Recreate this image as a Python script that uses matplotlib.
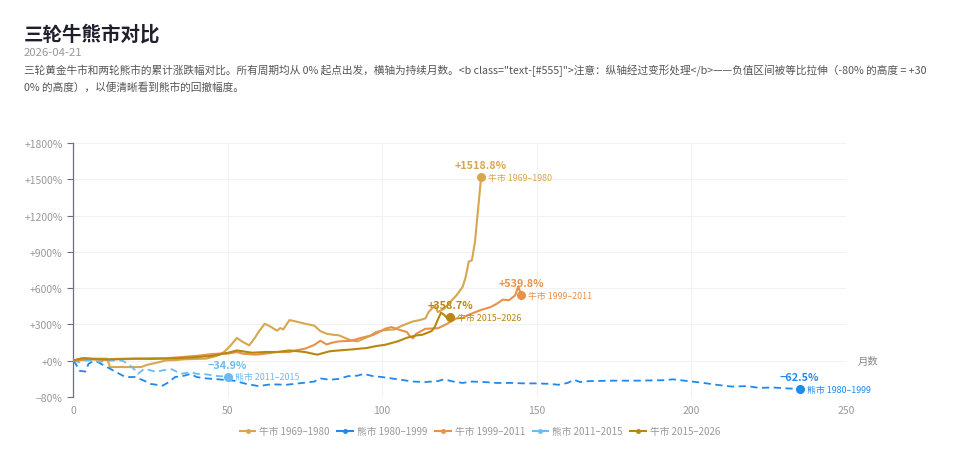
import numpy as np
import matplotlib
matplotlib.use("Agg")
import matplotlib.pyplot as plt
from matplotlib.lines import Line2D

plt.rcParams['font.family'] = ['Noto Sans CJK SC', 'DejaVu Sans']

# 月数 / 累计涨跌幅 (%)
bull_6980_m = [0, 2, 4, 6, 8, 11, 12, 16, 20, 22, 24, 26, 28, 30, 33, 36, 40, 43, 45, 47,
               49, 51, 53, 55, 57, 59, 60, 62, 64, 66, 67, 68, 70, 72, 75, 78, 80, 82, 84, 86,
               88, 90, 92, 94, 96, 98, 100, 102, 104, 106, 108, 110, 112, 114, 115, 117, 118, 120, 122, 124,
               126, 127, 128, 129, 130, 131, 132]
bull_6980_v = [0, 15, 22, 18, 17, 17, -14, -14, -14, -14, -9, -6, -3, 2, 5, 12, 15, 17, 30, 44,
               75, 127, 188, 154, 127, 196, 237, 306, 280, 248, 270, 259, 336, 325, 306, 290, 245, 223, 215, 210,
               188, 168, 160, 182, 204, 237, 250, 255, 259, 285, 306, 325, 335, 350, 402, 457, 402, 430, 485, 540,
               610, 692, 820, 830, 981, 1250, 1518.8]

bear_8099_m = [0, 1, 2, 4, 5, 6, 8, 11, 15, 17, 20, 23, 25, 29, 31, 33, 36, 38, 40, 43,
               47, 52, 56, 60, 64, 69, 73, 78, 80, 83, 86, 89, 92, 94, 97, 100, 103, 105, 110, 114,
               118, 120, 123, 126, 129, 133, 137, 142, 146, 150, 154, 157, 160, 162, 164, 167, 175, 182, 191, 194,
               199, 204, 208, 213, 218, 222, 226, 231, 235]
bear_8099_v = [0, -8, -22, -24, -7, -3, -3, -14, -29, -36, -36, -44, -51, -55, -47, -36, -33, -29, -36, -39,
               -41, -44, -51, -56, -52, -53, -50, -46, -39, -42, -40, -34, -33, -29, -34, -36, -39, -41, -46, -47,
               -45, -41, -46, -49, -46, -47, -49, -49, -50, -50, -51, -53, -49, -42, -47, -45, -44, -44, -43, -41,
               -45, -49, -53, -57, -56, -60, -59, -61, -62.5]

bull_9911_m = [0, 3, 6, 10, 15, 20, 25, 30, 35, 40, 45, 48, 50, 53, 55, 59, 62, 66, 70, 72,
               75, 78, 80, 82, 84, 86, 90, 93, 97, 99, 101, 103, 106, 108, 109, 110, 111, 114, 118, 120,
               122, 124, 126, 128, 132, 135, 137, 139, 141, 143, 144, 145]
bull_9911_v = [0, 5, 10, 8, 12, 15, 20, 20, 30, 40, 55, 60, 58, 72, 58, 50, 58, 72, 72, 85,
               99, 130, 165, 135, 150, 160, 165, 188, 212, 237, 265, 278, 252, 237, 200, 185, 223, 264, 268, 292,
               320, 350, 355, 380, 420, 443, 470, 505, 500, 540, 614, 539.8]

bear_1115_m = [0, 2, 4, 6, 8, 10, 12, 14, 16, 18, 20, 21, 23, 25, 27, 29, 32, 35, 38, 40, 43, 47, 50]
bear_1115_v = [0, -3, 1, 3, -2, -2, 0, 2, 0, -8, -20, -29, -18, -21, -25, -21, -19, -29, -25, -29, -30, -34, -34.9]

bull_1526_m = [0, 3, 6, 10, 15, 20, 25, 30, 35, 40, 45, 50, 53, 58, 62, 66, 70, 75, 79, 83,
               86, 90, 95, 98, 101, 105, 108, 111, 113, 116, 117, 118, 119, 120, 121, 122]
bull_1526_v = [0, 20, 15, 10, 15, 18, 15, 18, 22, 30, 40, 65, 85, 66, 72, 72, 85, 72, 50, 78,
               85, 93, 105, 121, 132, 160, 190, 209, 215, 245, 280, 340, 397, 380, 353, 358.7]

names = ['牛市 1969–1980', '熊市 1980–1999', '牛市 1999–2011', '熊市 2011–2015', '牛市 2015–2026']
colors = ['#D6A650', '#2088EE', '#E8914A', '#6BBBF2', '#B8870E']
dashed = [False, True, False, True, False]
series = [(bull_6980_m, bull_6980_v), (bear_8099_m, bear_8099_v), (bull_9911_m, bull_9911_v),
          (bear_1115_m, bear_1115_v), (bull_1526_m, bull_1526_v)]

yticks = [-80, 0, 300, 600, 900, 1200, 1500, 1800]
xticks = [0, 50, 100, 150, 200, 250]


# 负值区间拉伸：-80% 的高度 = +300%
def fwd(v):
    v = np.asarray(v, dtype=float)
    return np.where(v < 0, v * 3.75, v)


def inv(v):
    v = np.asarray(v, dtype=float)
    return np.where(v < 0, v / 3.75, v)


fig = plt.figure(figsize=(9.6, 4.64), dpi=100)
ax = fig.add_axes([73 / 960, 1 - 398 / 464, (846 - 73) / 960, (398 - 144) / 464])
ax.set_yscale('function', functions=(fwd, inv))

for (m, v), name, c, d in zip(series, names, colors, dashed):
    ls = (0, (4, 2.5)) if d else '-'
    lw = 1.3 if d else 1.5
    ax.plot(m, v, color=c, lw=lw, ls=ls, zorder=3)
    ax.plot(m[-1], v[-1], 'o', color=c, ms=5.5, zorder=4)
    val = ('+' if v[-1] > 0 else '−') + f'{abs(v[-1]):.1f}%'
    ax.annotate(val, (m[-1], v[-1]), xytext=(0, 5), textcoords='offset points',
                ha='center', va='bottom', fontsize=7.8, color=c, fontweight='bold', zorder=5)
    ax.annotate(name, (m[-1], v[-1]), xytext=(5, 0), textcoords='offset points',
                ha='left', va='center', fontsize=6.4, color=c, zorder=5)

ax.set_xlim(0, 250)
ax.set_ylim(-80, 1800)
ax.set_xticks(xticks)
ax.set_yticks(yticks)
ax.set_yticklabels([('+' if t >= 0 else '−') + f'{abs(t)}%' for t in yticks])
ax.tick_params(axis='y', colors='#6E7079', labelcolor='#999999', labelsize=7.5, length=4, width=0.8)
ax.tick_params(axis='x', labelcolor='#999999', labelsize=7.5, length=0, pad=6)
ax.grid(True, color='#F2F2F2', lw=0.8, zorder=0)
for s in ['top', 'right', 'bottom']:
    ax.spines[s].set_visible(False)
ax.spines['left'].set_color('#6E7079')
ax.spines['left'].set_linewidth(0.9)
ax.text(1.015, 0, '月数', transform=ax.get_yaxis_transform(), ha='left', va='center',
        fontsize=7.5, color='#888888')

# 标题与说明
fig.text(24 / 960, 1 - 35 / 464, '三轮牛熊市对比', fontsize=14, fontweight='bold', color='#1F1F2E',
         va='center', ha='left')
fig.text(24 / 960, 1 - 53 / 464, '2026-04-21', fontsize=8.2, color='#999999', va='center', ha='left')
fig.text(24 / 960, 1 - 71 / 464,
         '三轮黄金牛市和两轮熊市的累计涨跌幅对比。所有周期均从 0% 起点出发，横轴为持续月数。'
         '<b class="text-[#555]">注意：纵轴经过变形处理</b>——负值区间被等比拉伸（-80% 的高度 = +30',
         fontsize=7.7, color='#555555', va='center', ha='left')
fig.text(24 / 960, 1 - 87 / 464, '0% 的高度），以便清晰看到熊市的回撤幅度。',
         fontsize=7.7, color='#555555', va='center', ha='left')

handles = [Line2D([0], [0], color=c, lw=1.5, marker='o', ms=2.5) for c in colors]
fig.legend(handles, names, loc='center', bbox_to_anchor=(0.5, 1 - 432 / 464), ncol=5, frameon=False,
           fontsize=7, labelcolor='#999999', handlelength=1.6, handletextpad=0.4, columnspacing=0.8)

fig.savefig('out.png', dpi=100)
